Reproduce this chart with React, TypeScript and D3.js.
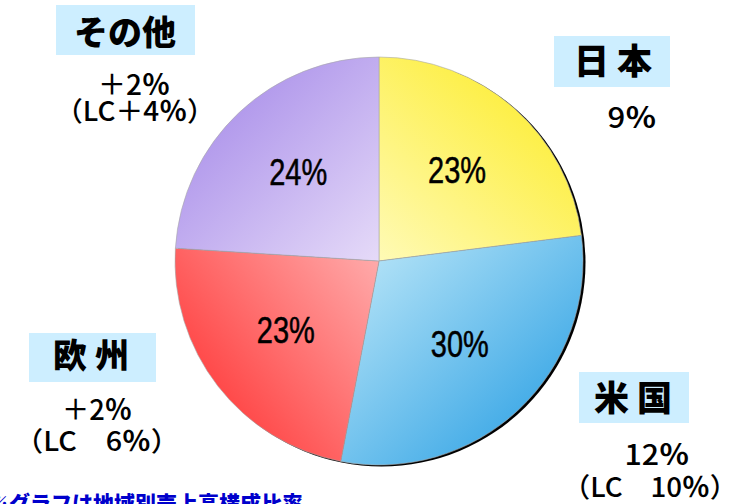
import React from "react";
import * as d3 from "d3";

const categories = ["日 本", "米 国", "欧 州", "その他"];
const shares = [23, 30, 23, 24];
const growthNums = ["9", "12", "＋2", "＋2"];
const lcPrefix = ["", "（LC　10", "（LC　6", "（LC＋4"];
const innerColors = ["#fffcc6", "#bce7f8", "#ffb8b8", "#ede4fa"];
const outerColors = ["#fdef48", "#48aee8", "#ff4a4a", "#b39bec"];
const footnote = "※グラフは地域別売上高構成比率";

const W = 739, H = 504;
const cx = 379, cy = 261, R = 204;

const layout = [
  { box: [554, 36, 116, 51], tx: 613, ty: 74, tfs: 35, gx: 632, gy: 128, gw: 49, lx: 0, ly: 0, lw: 0 },
  { box: [579, 372, 110, 51], tx: 633, ty: 411, tfs: 35, gx: 657, gy: 465, gw: 65, lx: 650, ly: 497, lw: 175 },
  { box: [29, 333, 127, 49], tx: 91, ty: 368, tfs: 34, gx: 97, gy: 420, gw: 70, lx: 97, ly: 451, lw: 165 },
  { box: [56, 5, 139, 50], tx: 125, ty: 45, tfs: 34, gx: 134, gy: 95, gw: 72, lx: 135, ly: 121, lw: 160 },
];

export default function App() {
  const pie = d3.pie<number>().sort(null).value((d) => d)(shares);
  const arc = d3.arc<d3.PieArcDatum<number>>().innerRadius(0).outerRadius(R);
  const lab = (d: d3.PieArcDatum<number>) => {
    const a = (d.startAngle + d.endAngle) / 2;
    return [Math.sin(a) * 118, -Math.cos(a) * 118 - 3];
  };
  const jp = "'Noto Sans CJK JP', sans-serif";
  return (
    <svg width={W} height={H} style={{ position: "absolute", left: 0, top: 0, background: "#fff" }}>
      <defs>
        {pie.map((d, i) => {
          const a = (d.startAngle + d.endAngle) / 2;
          return (
            <linearGradient key={i} id={`g${i}`} gradientUnits="userSpaceOnUse"
              x1={-Math.sin(a) * R * 0.15} y1={Math.cos(a) * R * 0.15}
              x2={Math.sin(a) * R} y2={-Math.cos(a) * R}>
              <stop offset="0" stopColor={innerColors[i]} />
              <stop offset="1" stopColor={outerColors[i]} />
            </linearGradient>
          );
        })}
      </defs>
      <circle cx={cx + 2.5} cy={cy + 1.5} r={R} fill="#000" />
      <g transform={`translate(${cx},${cy})`}>
        {pie.map((d, i) => (
          <path key={i} d={arc(d) || ""} fill={`url(#g${i})`} stroke="#a8a8a8" strokeWidth={0.6} />
        ))}
        {pie.map((d, i) => {
          const [x, y] = lab(d);
          return (
            <text key={i} x={x} y={y + 13} textAnchor="middle" fontFamily="'Liberation Sans', Arial, sans-serif"
              fontSize={36} textLength={58} lengthAdjust="spacingAndGlyphs" fill="#000"
              stroke="#000" strokeWidth={0.5}>
              {d.data}%
            </text>
          );
        })}
      </g>
      {layout.map((l, i) => (
        <g key={i}>
          <rect x={l.box[0]} y={l.box[1]} width={l.box[2]} height={l.box[3]} fill="#cdeeff" />
          <text x={l.tx} y={l.ty} textAnchor="middle" fontFamily={jp}
            fontWeight={900} fontSize={l.tfs} fill="#000">{categories[i]}</text>
          <text x={l.gx} y={l.gy} textAnchor="middle" fontFamily={jp}
            fontWeight={500} fontSize={28} textLength={l.gw} lengthAdjust="spacingAndGlyphs" fill="#000">
            {growthNums[i]}<tspan fontWeight={700}>％</tspan>
          </text>
          {lcPrefix[i] && (
            <text x={l.lx} y={l.ly} textAnchor="middle" fontFamily={jp}
              fontWeight={500} fontSize={27} textLength={l.lw} lengthAdjust="spacingAndGlyphs" fill="#000">
              {lcPrefix[i]}<tspan fontWeight={700}>％</tspan>）
            </text>
          )}
        </g>
      ))}
      <text x={-12} y={511} fontFamily={jp} fontWeight={900} fontSize={21}
        fill="#0000cc">{footnote}</text>
    </svg>
  );
}
